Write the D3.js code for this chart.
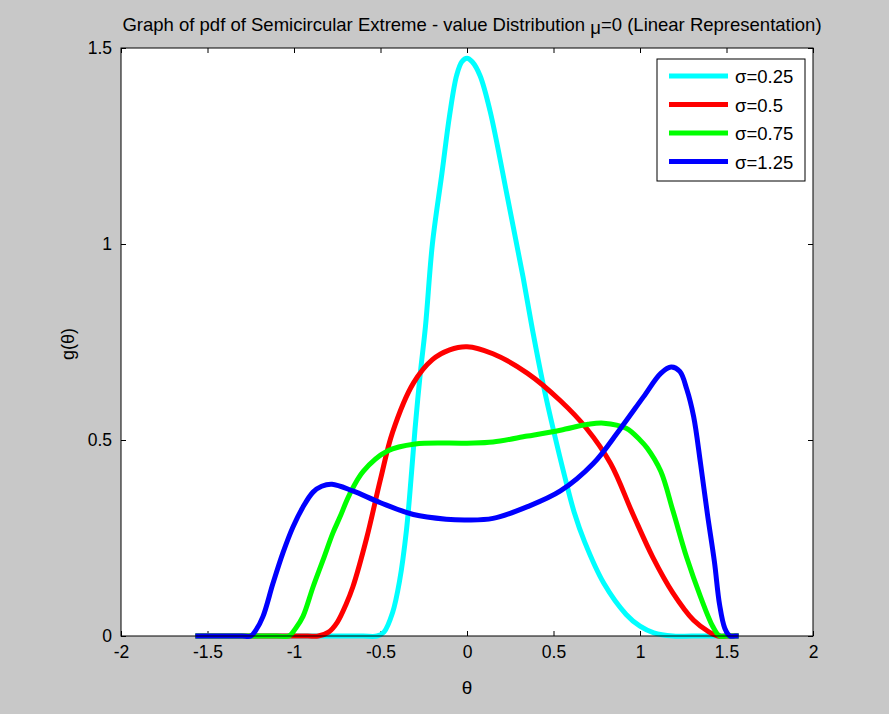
<!DOCTYPE html>
<html>
<head>
<meta charset="utf-8">
<script src="https://cdnjs.cloudflare.com/ajax/libs/d3/7.8.5/d3.min.js"></script>
<style>
  body { margin: 0; background: #c8c8c8; }
  text { font-family: Arial, "Liberation Sans", sans-serif; fill: #000; }
</style>
</head>
<body>
<svg id="chart" width="889" height="714"></svg>
<script>
// series: [theta, g(theta)]
var sigma025 = [[-1.57,0],[-0.8,0],[-0.6,0],[-0.52,0],[-0.48,0.01],[-0.43,0.06],[-0.39,0.14],[-0.35,0.27],[-0.32,0.42],[-0.3,0.53],[-0.27,0.67],[-0.24,0.79],[-0.2,1.0],[-0.145,1.18],[-0.1,1.33],[-0.06,1.43],[-0.03,1.465],[0,1.474],[0.03,1.465],[0.075,1.43],[0.133,1.34],[0.237,1.112],[0.324,0.916],[0.382,0.773],[0.439,0.645],[0.5,0.525],[0.566,0.405],[0.62,0.315],[0.68,0.24],[0.79,0.135],[0.92,0.055],[1.0,0.025],[1.08,0.008],[1.19,0],[1.3,0],[1.57,0]];
var sigma05 = [[-1.57,0],[-1.1,0],[-0.92,0],[-0.86,0],[-0.8,0.01],[-0.75,0.035],[-0.7,0.08],[-0.66,0.125],[-0.58,0.25],[-0.5,0.4],[-0.43,0.52],[-0.31,0.645],[-0.2,0.705],[-0.1,0.73],[0,0.738],[0.15,0.72],[0.35,0.67],[0.54,0.60],[0.69,0.53],[0.83,0.44],[0.96,0.31],[1.075,0.20],[1.19,0.11],[1.31,0.04],[1.40,0.01],[1.45,0],[1.5,0],[1.57,0]];
var sigma075 = [[-1.57,0],[-1.3,0],[-1.1,0],[-1.03,0],[-0.99,0.02],[-0.948,0.05],[-0.89,0.125],[-0.832,0.194],[-0.775,0.263],[-0.734,0.304],[-0.68,0.36],[-0.6,0.42],[-0.46,0.472],[-0.3,0.49],[0,0.492],[0.15,0.495],[0.35,0.51],[0.54,0.525],[0.7,0.54],[0.79,0.543],[0.92,0.53],[1.0,0.5],[1.04,0.48],[1.12,0.42],[1.19,0.32],[1.27,0.20],[1.35,0.10],[1.42,0.025],[1.46,0],[1.5,0],[1.57,0]];
var sigma125 = [[-1.57,0],[-1.4,0],[-1.3,0],[-1.25,0],[-1.22,0.015],[-1.179,0.05],[-1.121,0.135],[-1.064,0.212],[-1.006,0.278],[-0.948,0.329],[-0.89,0.367],[-0.84,0.382],[-0.78,0.387],[-0.66,0.37],[-0.5,0.34],[-0.31,0.31],[-0.12,0.298],[0,0.296],[0.15,0.30],[0.35,0.33],[0.54,0.37],[0.73,0.44],[0.88,0.525],[1.02,0.61],[1.12,0.67],[1.18,0.686],[1.23,0.675],[1.27,0.63],[1.31,0.56],[1.35,0.44],[1.39,0.31],[1.43,0.19],[1.46,0.08],[1.49,0.02],[1.52,0],[1.55,0],[1.57,0]];

var seriesNames = ["\u03c3=0.25", "\u03c3=0.5", "\u03c3=0.75", "\u03c3=1.25"];
var seriesColors = ["#00ffff", "#ff0000", "#00ff00", "#0000ff"];
var seriesData = [sigma025, sigma05, sigma075, sigma125];
var xTicks = [-2, -1.5, -1, -0.5, 0, 0.5, 1, 1.5, 2];
var yTicks = [0, 0.5, 1, 1.5];

var svg = d3.select("#chart");
// plot area edges (don't call it "top", that's window.top)
var pLeft = 121, pRight = 813, pTop = 48, pBottom = 636;

var x = d3.scaleLinear().domain([-2, 2]).range([pLeft, pRight]);
var y = d3.scaleLinear().domain([0, 1.5]).range([pBottom, pTop]);

// white plot area
svg.append("rect")
    .attr("x", pLeft).attr("y", pTop)
    .attr("width", pRight - pLeft).attr("height", pBottom - pTop)
    .attr("fill", "#fff");

// axes, ticks pointing inwards like matlab
var fmt = function(d) { return String(d); };
var axB = d3.axisBottom(x).tickValues(xTicks).tickSizeInner(-5).tickSizeOuter(0).tickPadding(10).tickFormat(fmt);
var axT = d3.axisTop(x).tickValues(xTicks).tickSizeInner(-5).tickSizeOuter(0).tickFormat("");
var axL = d3.axisLeft(y).tickValues(yTicks).tickSizeInner(-5).tickSizeOuter(0).tickPadding(9).tickFormat(fmt);
var axR = d3.axisRight(y).tickValues(yTicks).tickSizeInner(-5).tickSizeOuter(0).tickFormat("");

function styleAxis(g) {
    g.select(".domain").remove();
    g.selectAll("line").attr("stroke", "#000");
    g.selectAll("text").style("font-size", "17.5px").attr("fill", "#000");
}

svg.append("g").attr("transform", "translate(0," + pBottom + ")").call(axB).call(styleAxis);
svg.append("g").attr("transform", "translate(0," + pTop + ")").call(axT).call(styleAxis);
svg.append("g").attr("transform", "translate(" + pLeft + ",0)").call(axL).call(styleAxis);
svg.append("g").attr("transform", "translate(" + pRight + ",0)").call(axR).call(styleAxis);

// curves
var line = d3.line()
    .x(function(d) { return x(d[0]); })
    .y(function(d) { return y(d[1]); })
    .curve(d3.curveCatmullRom.alpha(0.5));

svg.append("g").selectAll("path")
    .data(seriesData)
  .enter().append("path")
    .attr("d", line)
    .attr("fill", "none")
    .attr("stroke", function(d, i) { return seriesColors[i]; })
    .attr("stroke-width", 5)
    .attr("stroke-linejoin", "round");

// box
svg.append("rect")
    .attr("x", pLeft).attr("y", pTop)
    .attr("width", pRight - pLeft).attr("height", pBottom - pTop)
    .attr("fill", "none").attr("stroke", "#000").attr("stroke-width", 1);

// title
var title = svg.append("text")
    .attr("x", 472).attr("y", 31)
    .attr("text-anchor", "middle")
    .style("font-size", "18.5px");
title.append("tspan").text("Graph of pdf of Semicircular Extreme - value Distribution ");
title.append("tspan").attr("dy", 3).text("\u03bc");
title.append("tspan").attr("dy", -3).text("=0 (Linear Representation)");

// axis labels
svg.append("text")
    .attr("x", (pLeft + pRight) / 2).attr("y", 694)
    .attr("text-anchor", "middle")
    .style("font-size", "19px")
    .text("\u03b8");

svg.append("text")
    .attr("transform", "translate(74,344) rotate(-90)")
    .attr("text-anchor", "middle")
    .style("font-size", "18px")
    .text("g(\u03b8)");

// legend
var lg = svg.append("g");
lg.append("rect")
    .attr("x", 657).attr("y", 59)
    .attr("width", 148).attr("height", 122)
    .attr("fill", "#fff").attr("stroke", "#000");

var item = lg.selectAll(".item")
    .data(seriesNames)
  .enter().append("g")
    .attr("class", "item")
    .attr("transform", function(d, i) { return "translate(669," + (76 + i * 28.5) + ")"; });

item.append("line")
    .attr("x1", 0).attr("x2", 59)
    .attr("stroke", function(d, i) { return seriesColors[i]; })
    .attr("stroke-width", 5);

item.append("text")
    .attr("x", 66).attr("y", 7)
    .style("font-size", "18.5px")
    .text(function(d) { return d; });
</script>
</body>
</html>
